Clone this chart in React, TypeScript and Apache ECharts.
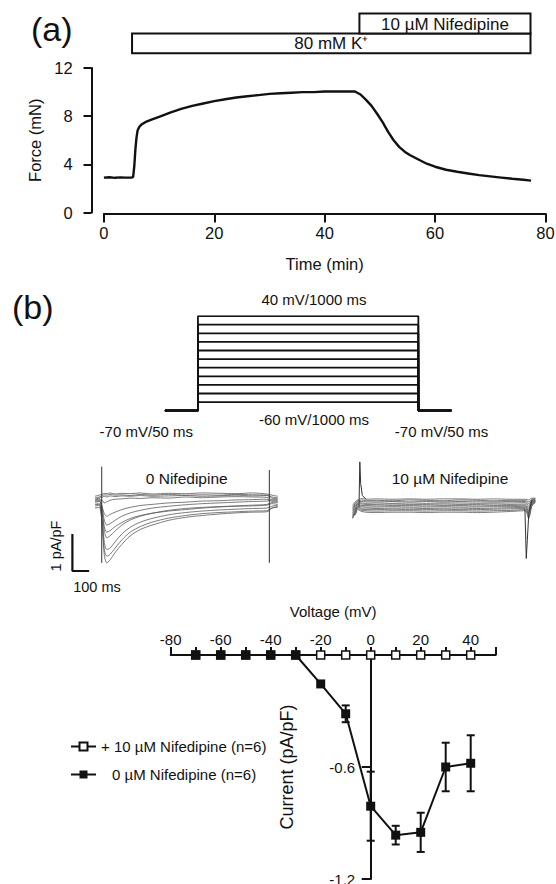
import React, { useEffect, useRef } from 'react';
import * as echarts from 'echarts';

const FONT = "'Liberation Sans', Arial, Helvetica, sans-serif";
const INK = '#111';

// ---------- (a) isometric force recording ----------
const FORCE_TIME = [0, 1, 2, 3, 4, 5, 5.3, 5.5, 5.7, 5.9, 6.1, 6.4, 6.8, 7.5, 8.5, 10, 12, 14, 16, 18, 20, 22, 24, 26, 28, 30, 32, 34, 36, 38, 40, 42, 44, 45.5, 46.5, 47.5, 48.5, 49.5, 50.5, 51.5, 52.5, 53.5, 54.5, 55.5, 57, 58.5, 60, 62, 64, 66, 68, 70, 72, 74, 76, 77.4];
const FORCE_VALUE = [2.9, 2.93, 2.88, 2.92, 2.9, 2.9, 2.95, 3.8, 5.2, 6.2, 6.8, 7.1, 7.3, 7.5, 7.7, 7.95, 8.3, 8.6, 8.85, 9.05, 9.25, 9.4, 9.55, 9.65, 9.75, 9.85, 9.9, 9.95, 10.0, 10.0, 10.05, 10.05, 10.05, 10.05, 9.8, 9.35, 8.85, 8.2, 7.5, 6.7, 6.0, 5.45, 5.05, 4.75, 4.4, 4.05, 3.8, 3.55, 3.38, 3.24, 3.1, 3.0, 2.9, 2.8, 2.72, 2.65];
const TREATMENT_LABELS = ['80 mM K⁺', '10 µM Nifedipine'];
const TREATMENT_START = [5.1, 46.3];
const TREATMENT_END = [77.3, 77.3];
const FORCE_X_TICKS = [0, 20, 40, 60, 80];
const FORCE_Y_TICKS = [0, 4, 8, 12];

// ---------- (b) voltage protocol (schematic time axis) ----------
const STEP_MV = [-60, -50, -40, -30, -20, -10, 0, 10, 20, 30, 40];
const HOLD_MV = -70;
const PROTOCOL_T = [-150, 0, 0, 1000, 1000, 1150];

// ---------- (b) current traces (pA/pF) ----------
const TRACE_T_CTRL = [-40, -15, 5, 15, 30, 50, 80, 120, 170, 230, 300, 400, 500, 600, 700, 800, 900, 985, 1015, 1050];
const TRACES_CTRL = [
  [0.02, 0.05, 0.08, 0.10, 0.09, 0.11, 0.08, 0.10, 0.09, 0.11, 0.08, 0.10, 0.09, 0.11, 0.10, 0.09, 0.11, 0.08, 0.05, 0.02],
  [-0.02, 0.00, 0.04, 0.06, 0.05, 0.07, 0.05, 0.06, 0.04, 0.07, 0.05, 0.07, 0.05, 0.06, 0.05, 0.07, 0.06, 0.05, 0.00, -0.02],
  [-0.05, -0.03, 0.00, 0.02, 0.00, 0.03, 0.01, 0.03, 0.02, 0.04, 0.02, 0.03, 0.04, 0.02, 0.03, 0.05, 0.03, 0.04, -0.03, -0.05],
  [-0.10, -0.08, -0.10, -0.16, -0.13, -0.09, -0.06, -0.05, -0.03, -0.04, -0.02, -0.03, 0.00, -0.02, 0.00, 0.01, 0.00, -0.01, -0.08, -0.10],
  [-0.15, -0.12, -0.30, -0.45, -0.52, -0.47, -0.41, -0.34, -0.28, -0.23, -0.20, -0.16, -0.14, -0.11, -0.10, -0.08, -0.07, -0.06, -0.12, -0.15],
  [-0.20, -0.18, -0.50, -0.80, -0.95, -0.91, -0.80, -0.69, -0.58, -0.50, -0.44, -0.38, -0.34, -0.30, -0.27, -0.25, -0.24, -0.22, -0.18, -0.20],
  [-0.25, -0.22, -0.90, -1.55, -1.78, -1.70, -1.50, -1.28, -1.05, -0.88, -0.76, -0.63, -0.55, -0.50, -0.46, -0.43, -0.41, -0.40, -0.30, -0.25],
  [-0.30, -0.28, -0.85, -1.40, -1.60, -1.55, -1.38, -1.16, -0.95, -0.80, -0.68, -0.57, -0.50, -0.45, -0.42, -0.40, -0.38, -0.37, -0.30, -0.28],
  [-0.20, -0.20, -0.70, -1.20, -1.42, -1.38, -1.21, -1.00, -0.82, -0.68, -0.58, -0.48, -0.42, -0.38, -0.35, -0.33, -0.31, -0.30, -0.25, -0.22],
  [-0.12, -0.10, -0.50, -0.90, -1.10, -1.05, -0.92, -0.76, -0.62, -0.52, -0.44, -0.36, -0.31, -0.28, -0.26, -0.24, -0.22, -0.20, -0.15, -0.12],
  [-0.08, -0.05, -0.35, -0.62, -0.76, -0.72, -0.63, -0.52, -0.43, -0.36, -0.30, -0.25, -0.21, -0.18, -0.16, -0.14, -0.12, -0.11, -0.08, -0.06],
];
const SPIKES_CTRL = [
  [[0, 0.82], [0, -1.78]],
  [[1000, 0.73], [1000, -1.78]],
];
const TRACE_T_NIF = [-40, -25, -10, 0, 15, 40, 100, 200, 300, 400, 500, 600, 700, 800, 900, 990, 1010, 1030, 1050];
const TRACES_NIF = [
  [-0.15, -0.05, 0.0, 0.02, 0.04, 0.02, 0.03, 0.02, 0.03, 0.02, 0.03, 0.03, 0.02, 0.03, 0.02, 0.02, 0.0, 0.05, 0.05],
  [-0.2, -0.1, -0.02, -0.01, 0.0, -0.02, -0.01, -0.02, 0.0, -0.01, -0.02, 0.0, -0.01, -0.02, -0.01, -0.01, -0.05, 0.02, 0.03],
  [-0.25, -0.12, -0.05, -0.04, -0.04, -0.05, -0.05, -0.04, -0.05, -0.04, -0.05, -0.04, -0.05, -0.05, -0.04, -0.04, -0.1, 0.0, 0.02],
  [-0.3, -0.15, -0.08, -0.07, -0.08, -0.09, -0.08, -0.09, -0.08, -0.09, -0.08, -0.08, -0.09, -0.08, -0.08, -0.07, -0.15, -0.02, 0.0],
  [-0.35, -0.2, -0.1, -0.1, -0.11, -0.12, -0.12, -0.11, -0.12, -0.12, -0.11, -0.12, -0.12, -0.11, -0.12, -0.11, -0.2, -0.04, -0.01],
  [-0.4, -0.25, -0.12, -0.13, -0.15, -0.15, -0.16, -0.15, -0.15, -0.16, -0.15, -0.15, -0.16, -0.15, -0.15, -0.14, -0.25, -0.06, -0.02],
  [-0.45, -0.3, -0.15, -0.16, -0.18, -0.19, -0.19, -0.18, -0.19, -0.19, -0.18, -0.19, -0.19, -0.18, -0.18, -0.17, -0.3, -0.08, -0.03],
  [-0.48, -0.32, -0.18, -0.19, -0.22, -0.22, -0.23, -0.22, -0.22, -0.23, -0.22, -0.22, -0.23, -0.22, -0.21, -0.2, -0.35, -0.1, -0.04],
  [-0.5, -0.35, -0.2, -0.22, -0.25, -0.26, -0.26, -0.25, -0.26, -0.26, -0.25, -0.26, -0.26, -0.25, -0.24, -0.23, -0.4, -0.12, -0.05],
  [-0.45, -0.38, -0.22, -0.25, -0.28, -0.29, -0.3, -0.29, -0.29, -0.3, -0.29, -0.29, -0.3, -0.29, -0.28, -0.26, -0.45, -0.14, -0.06],
  [-0.4, -0.4, -0.25, -0.28, -0.31, -0.33, -0.34, -0.33, -0.33, -0.34, -0.33, -0.33, -0.34, -0.33, -0.31, -0.29, -0.5, -0.16, -0.07],
];
const SPIKES_NIF = [
  [[-2, -0.2], [3, 1.03], [8, 0.45], [18, 0.12], [40, 0.02]],
  [[988, -0.25], [996, -1.58], [1002, -1.1], [1012, -0.3], [1030, 0.0]],
];
// scale bar: 100 ms x 1 pA/pF
const SCALE_BAR = [[-175, -1], [-175, -2], [-75, -2]];

// ---------- (b) I-V relation ----------
const IV_V = [-70, -60, -50, -40, -30, -20, -10, 0, 10, 20, 30, 40];
const IV_CTRL = [0, 0, 0, 0, 0, -0.155, -0.315, -0.81, -0.965, -0.95, -0.6, -0.58];
const IV_CTRL_SEM = [0, 0, 0, 0, 0, 0, 0.045, 0.185, 0.05, 0.105, 0.13, 0.15];
const IV_NIF = [0, 0, 0, 0, 0, 0, 0, 0, 0, 0, 0, 0];
const IV_X_TICKS = [-80, -60, -40, -20, 0, 20, 40];
const IV_X_MAX = 50;
const IV_Y_TICKS = [-1.2, -0.6, 0];
const NAME_CTRL = '0 µM Nifedipine (n=6)';
const NAME_NIF = '+ 10 µM Nifedipine (n=6)';

// IV grid geometry (y axis crosses at 0 mV)
const IV_LEFT = 170.7;
const IV_WIDTH = 325;

function buildOption(): any {
  const series: any[] = [];

  // (a) force trace
  series.push({
    type: 'line', xAxisIndex: 0, yAxisIndex: 0, silent: true,
    data: FORCE_TIME.map((t, i) => [t, FORCE_VALUE[i]]),
    showSymbol: false, symbol: 'none',
    lineStyle: { color: INK, width: 2.4 },
  });
  // (a) treatment bars
  series.push({
    type: 'custom', xAxisIndex: 0, yAxisIndex: 0, silent: true, clip: false,
    data: TREATMENT_START.map((s, i) => [s, TREATMENT_END[i], i]),
    encode: { x: [0, 1], y: 2 },
    renderItem: (params: any, api: any) => {
      const i = params.dataIndex;
      const x0 = api.coord([api.value(0), 0])[0];
      const x1 = api.coord([api.value(1), 0])[0];
      const top = i === 0 ? 33.4 : 13.6;
      const h = 19.8;
      return {
        type: 'group',
        children: [
          { type: 'rect', shape: { x: x0, y: top, width: x1 - x0, height: h }, style: { fill: '#fff', stroke: INK, lineWidth: 2 } },
          { type: 'text', x: (x0 + x1) / 2, y: top + h / 2 + 0.5, style: { text: TREATMENT_LABELS[i], fontSize: 17, fontFamily: FONT, fill: INK, align: 'center', verticalAlign: 'middle' } },
        ],
      };
    },
  });

  // (b) protocol
  STEP_MV.forEach((v) => {
    const volts = [HOLD_MV, HOLD_MV, v, v, HOLD_MV, HOLD_MV];
    series.push({
      type: 'line', xAxisIndex: 1, yAxisIndex: 1, silent: true,
      data: PROTOCOL_T.map((t, i) => [t, volts[i]]),
      showSymbol: false, symbol: 'none',
      lineStyle: { color: INK, width: 1.8 },
    });
  });

  // (b) traces, control
  TRACES_CTRL.forEach((tr) => {
    series.push({
      type: 'line', xAxisIndex: 2, yAxisIndex: 2, silent: true, smooth: 0.3,
      data: TRACE_T_CTRL.map((t, i) => [t, tr[i]]),
      showSymbol: false, symbol: 'none',
      lineStyle: { color: '#5a5a5a', width: 0.8 },
    });
  });
  SPIKES_CTRL.forEach((sp) => {
    series.push({
      type: 'line', xAxisIndex: 2, yAxisIndex: 2, silent: true,
      data: sp, showSymbol: false, symbol: 'none',
      lineStyle: { color: '#333', width: 1 },
    });
  });
  series.push({
    type: 'line', xAxisIndex: 2, yAxisIndex: 2, silent: true,
    data: SCALE_BAR, showSymbol: false, symbol: 'none',
    lineStyle: { color: INK, width: 2.2 },
  });
  // (b) traces, nifedipine
  TRACES_NIF.forEach((tr) => {
    series.push({
      type: 'line', xAxisIndex: 3, yAxisIndex: 3, silent: true, smooth: 0.3,
      data: TRACE_T_NIF.map((t, i) => [t, tr[i]]),
      showSymbol: false, symbol: 'none',
      lineStyle: { color: '#5a5a5a', width: 0.8 },
    });
  });
  SPIKES_NIF.forEach((sp) => {
    series.push({
      type: 'line', xAxisIndex: 3, yAxisIndex: 3, silent: true,
      data: sp, showSymbol: false, symbol: 'none',
      lineStyle: { color: '#333', width: 1 },
    });
  });

  // (b) I-V
  series.push({
    name: NAME_NIF, type: 'line', xAxisIndex: 4, yAxisIndex: 4, silent: true,
    data: IV_V.map((v, i) => [v, IV_NIF[i]]),
    symbol: 'rect', symbolSize: 8, showSymbol: true,
    itemStyle: { color: '#fff', borderColor: INK, borderWidth: 1.5 },
    lineStyle: { color: INK, width: 2 }, z: 3,
  });
  series.push({
    name: NAME_CTRL, type: 'line', xAxisIndex: 4, yAxisIndex: 4, silent: true,
    data: IV_V.map((v, i) => [v, IV_CTRL[i]]),
    symbol: 'rect', symbolSize: 9, showSymbol: true,
    itemStyle: { color: INK, borderColor: INK, borderWidth: 0 },
    lineStyle: { color: INK, width: 2 }, z: 4,
  });
  series.push({
    type: 'custom', xAxisIndex: 4, yAxisIndex: 4, silent: true, clip: false, z: 5,
    data: IV_V.map((v, i) => [v, IV_CTRL[i], IV_CTRL_SEM[i]]).filter((d) => d[2] > 0),
    encode: { x: 0, y: 1 },
    renderItem: (params: any, api: any) => {
      const x = api.value(0), m = api.value(1), e = api.value(2);
      const a = api.coord([x, m + e]);
      const b = api.coord([x, m - e]);
      const c = 4;
      const st = { stroke: INK, lineWidth: 2 };
      return {
        type: 'group',
        children: [
          { type: 'line', shape: { x1: a[0], y1: a[1], x2: b[0], y2: b[1] }, style: st },
          { type: 'line', shape: { x1: a[0] - c, y1: a[1], x2: a[0] + c, y2: a[1] }, style: st },
          { type: 'line', shape: { x1: b[0] - c, y1: b[1], x2: b[0] + c, y2: b[1] }, style: st },
        ],
      };
    },
  });

  const axisStyle = { color: INK, width: 2 };
  const labelStyle = { color: INK, fontFamily: FONT };

  const txt = (text: string, x: number, y: number, size: number, extra: any = {}) => ({
    type: 'text', x, y, silent: true, ...extra,
    style: { text, fontSize: size, fontFamily: FONT, fill: INK, align: 'center', verticalAlign: 'middle', ...(extra.style || {}) },
  });

  // shift of the IV y axis from the grid's left edge to 0 mV
  const ivZeroShift = ((0 - IV_X_TICKS[0]) / (IV_X_MAX - IV_X_TICKS[0])) * IV_WIDTH;

  return {
    animation: false,
    backgroundColor: '#fff',
    textStyle: { fontFamily: FONT, color: INK },
    grid: [
      { left: 103.9, top: 68, width: 441.5, height: 144.5, outerBoundsMode: 'none' },
      { left: 164.9, top: 316.1, width: 286.5, height: 94.6, outerBoundsMode: 'none' },
      { left: 68.2, top: 452.6, width: 217.9, height: 155.4, outerBoundsMode: 'none' },
      { left: 325.8, top: 455.6, width: 217.9, height: 155.4, outerBoundsMode: 'none' },
      { left: IV_LEFT, top: 655, width: IV_WIDTH, height: 224, outerBoundsMode: 'none' },
    ],
    xAxis: [
      {
        gridIndex: 0, type: 'value', min: FORCE_X_TICKS[0], max: FORCE_X_TICKS[FORCE_X_TICKS.length - 1],
        interval: FORCE_X_TICKS[1] - FORCE_X_TICKS[0], offset: 1,
        axisLine: { show: true, onZero: false, lineStyle: axisStyle },
        axisTick: { show: true, length: 9, lineStyle: axisStyle },
        axisLabel: { show: true, margin: 11, fontSize: 16.5, ...labelStyle },
        splitLine: { show: false },
        name: 'Time (min)', nameLocation: 'middle', nameGap: 42,
        nameTextStyle: { fontSize: 16.5, ...labelStyle },
      },
      { gridIndex: 1, type: 'value', min: -150, max: 1150, show: false },
      { gridIndex: 2, type: 'value', min: -200, max: 1100, show: false },
      { gridIndex: 3, type: 'value', min: -200, max: 1100, show: false },
      {
        gridIndex: 4, type: 'value', position: 'top', min: IV_X_TICKS[0], max: IV_X_MAX, interval: 10,
        axisLine: { show: true, onZero: false, lineStyle: axisStyle },
        axisTick: { show: true, length: 8, lineStyle: axisStyle },
        axisLabel: {
          show: true, margin: 8, fontSize: 15, ...labelStyle,
          formatter: (v: number) => (IV_X_TICKS.indexOf(Math.round(v)) >= 0 ? String(Math.round(v)) : ''),
        },
        splitLine: { show: false },
        name: 'Voltage (mV)', nameLocation: 'middle', nameGap: 36,
        nameTextStyle: { fontSize: 15, ...labelStyle },
      },
    ],
    yAxis: [
      {
        gridIndex: 0, type: 'value', min: FORCE_Y_TICKS[0], max: FORCE_Y_TICKS[FORCE_Y_TICKS.length - 1],
        interval: FORCE_Y_TICKS[1] - FORCE_Y_TICKS[0], offset: 12.4,
        axisLine: { show: true, onZero: false, lineStyle: axisStyle },
        axisTick: { show: true, length: 8, lineStyle: axisStyle },
        axisLabel: { show: true, margin: 18.8, fontSize: 16.5, ...labelStyle },
        splitLine: { show: false },
        name: 'Force (mN)', nameLocation: 'middle', nameGap: 43,
        nameTextStyle: { fontSize: 16.5, ...labelStyle },
      },
      { gridIndex: 1, type: 'value', min: -70, max: 40, show: false },
      { gridIndex: 2, type: 'value', min: -3, max: 1.2, show: false },
      { gridIndex: 3, type: 'value', min: -3, max: 1.2, show: false },
      {
        gridIndex: 4, type: 'value', position: 'left', offset: -ivZeroShift,
        min: IV_Y_TICKS[0], max: IV_Y_TICKS[IV_Y_TICKS.length - 1],
        interval: IV_Y_TICKS[1] - IV_Y_TICKS[0],
        axisLine: { show: true, onZero: false, lineStyle: axisStyle },
        axisTick: { show: true, length: 9, lineStyle: axisStyle },
        axisLabel: {
          show: true, margin: 15.5, fontSize: 15, ...labelStyle,
          formatter: (v: number) => (Math.abs(v) < 1e-9 ? '' : v.toFixed(1)),
        },
        splitLine: { show: false },
        name: 'Current (pA/pF)', nameLocation: 'middle', nameGap: 75,
        nameTextStyle: { fontSize: 18, ...labelStyle },
      },
    ],
    legend: {
      show: true, orient: 'vertical', left: 65, top: 734, itemWidth: 25, itemHeight: 10, itemGap: 13,
      selectedMode: false, data: [NAME_NIF, NAME_CTRL],
      textStyle: {
        fontSize: 15, color: INK, fontFamily: FONT,
        rich: { ind: { fontSize: 15, fontFamily: FONT, color: INK, padding: [0, 0, 0, 11] }, n: { fontSize: 15, fontFamily: FONT, color: INK } },
      },
      formatter: (name: string) => (name === NAME_CTRL ? `{ind|${name}}` : `{n|${name}}`),
    },
    graphic: [
      txt('(a)', 31, 28.5, 34, { style: { align: 'left' } }),
      txt('(b)', 12, 307, 34, { style: { align: 'left' } }),
      txt('40 mV/1000 ms', 314, 299, 15),
      txt('-60 mV/1000 ms', 314, 419.5, 15),
      txt('-70 mV/50 ms', 146.3, 431.5, 15),
      txt('-70 mV/50 ms', 441.5, 431.5, 15),
      txt('0 Nifedipine', 186.7, 478, 15.5),
      txt('10 µM Nifedipine', 450, 478, 15.5),
      txt('1 pA/pF', 56, 546, 14.5, { rotation: Math.PI / 2 }),
      txt('100 ms', 97, 586.7, 14.5),
    ],
    series,
  };
}

export default function App() {
  const ref = useRef<HTMLDivElement>(null);
  useEffect(() => {
    document.body.style.margin = '0';
    if (!ref.current) return;
    const chart = echarts.init(ref.current, undefined, { renderer: 'svg' });
    chart.setOption(buildOption());
    return () => chart.dispose();
  }, []);
  return <div ref={ref} style={{ width: 556, height: 884, background: '#fff' }} />;
}
